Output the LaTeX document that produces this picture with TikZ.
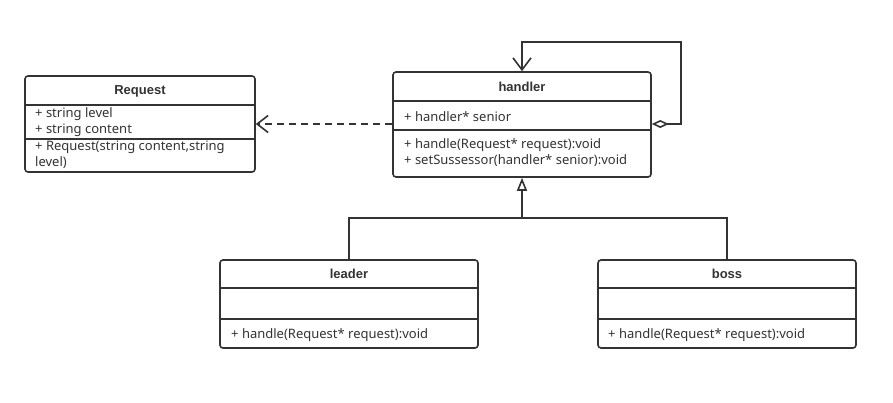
\documentclass[tikz,border=0pt]{standalone}
\usepackage{fontspec}
\setmainfont{Noto Sans}
\newfontfamily\headfont{Liberation Sans}
\usetikzlibrary{arrows.meta}
\definecolor{ink}{HTML}{333333}
\begin{document}
\begin{tikzpicture}[x=1pt,y=-1pt,
  box/.style={draw=ink, line width=1.6pt, rounded corners=3pt, inner sep=0pt},
  title/.style={font=\headfont\fontsize{13}{15}\selectfont\bfseries, text=ink, inner sep=0pt},
  member/.style={font=\fontsize{13}{16}\selectfont, text=ink, anchor=west, inner sep=0pt},
  div/.style={draw=ink, line width=1.6pt},
  conn/.style={draw=ink, line width=1.6pt}]
\useasboundingbox[fill=white] (0,0) rectangle (893,402);

% Request
\node[box, minimum width=230pt, minimum height=96pt] (req) at (140,124) {};
\draw[div] (25,105) -- (255,105);
\draw[div] (25,139) -- (255,139);
\node[title] (reqt) at (140,91) {Request};
\node[member] (r1) at (35,114) {+ string level};
\node[member] (r2) at (35,130) {+ string content};
\node[member] (r3) at (35,147) {+ Request(string content,string};
\node[member] (r4) at (35,163) {level)};

% handler
\node[box, minimum width=258pt, minimum height=105pt] (hnd) at (522,124.5) {};
\draw[div] (393,101) -- (651,101);
\draw[div] (393,130) -- (651,130);
\node[title] (hndt) at (522,87) {handler};
\node[member] (h1) at (404,117) {+ handler* senior};
\node[member] (h2) at (404,145) {+ handle(Request* request):void};
\node[member] (h3) at (404,161) {+ setSussessor(handler* senior):void};

% leader
\node[box, minimum width=258pt, minimum height=88pt] (ldr) at (349,304) {};
\draw[div] (220,288) -- (478,288);
\draw[div] (220,319) -- (478,319);
\node[title] (ldrt) at (349,274) {leader};
\node[member] (l1) at (231,335) {+ handle(Request* request):void};

% boss
\node[box, minimum width=258pt, minimum height=88pt] (bos) at (727,304) {};
\draw[div] (598,288) -- (856,288);
\draw[div] (598,319) -- (856,319);
\node[title] (bost) at (727,274) {boss};
\node[member] (b1) at (608,335) {+ handle(Request* request):void};

% dependency
\draw[conn, dash pattern=on 7pt off 5pt, -{Straight Barb[length=11pt,width=17pt]}]
  (hnd.west |- 0,124) -- (req.east |- 0,124);

% self aggregation
\coordinate (lt) at (681,42);
\draw[conn, {Diamond[open,length=17pt,width=8pt]}-{Straight Barb[length=12pt,width=18pt]}]
  (hnd.east |- 0,124) -| (lt) -| (hnd.north);

% inheritance
\coordinate (j) at (522,218);
\draw[conn] (ldr.north) |- (j);
\draw[conn] (bos.north) |- (j);
\draw[conn, -{Triangle[open,length=13pt,width=10pt]}] (j) -- (hnd.south);
\end{tikzpicture}
\end{document}
